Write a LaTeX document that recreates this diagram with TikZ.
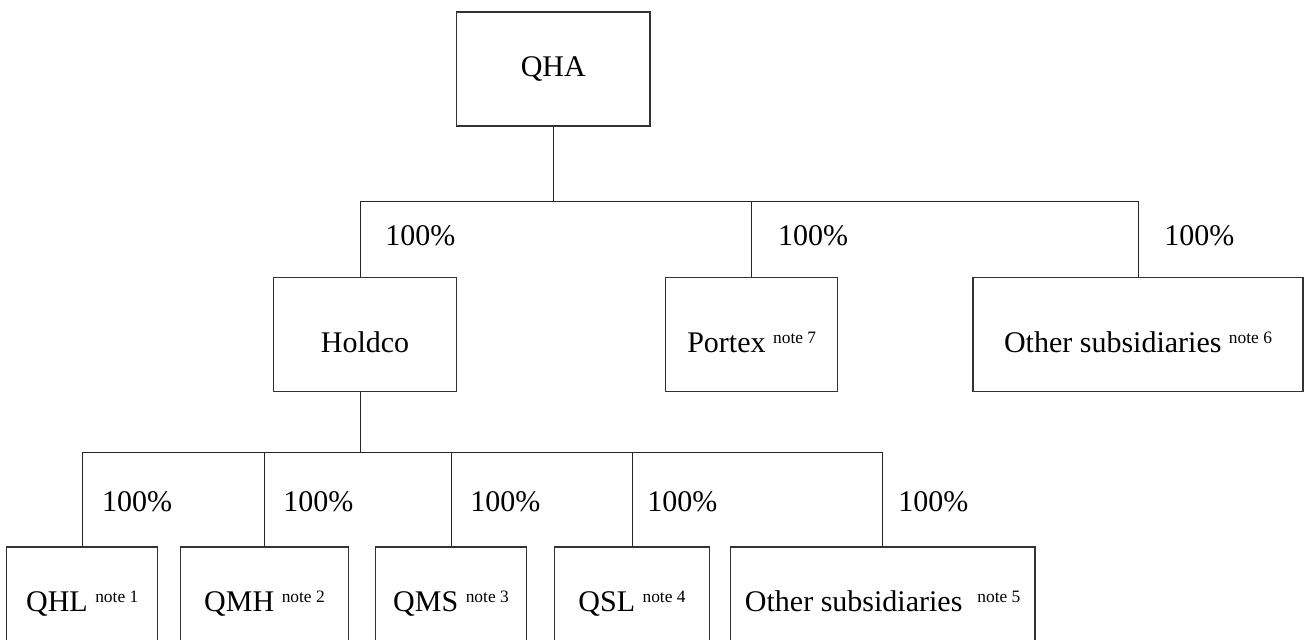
\documentclass[tikz,border=0pt]{standalone}
\usepackage{fontspec}
\setmainfont{Liberation Serif}
\newcommand{\subnote}[1]{\raisebox{4.8pt}{\fontsize{8.7}{10}\selectfont note #1}}

\begin{document}
\begin{tikzpicture}[
  x=0.5pt, y=-0.5pt,
  font=\fontsize{15}{18}\selectfont,
  entity/.style={draw=black!80, line width=0.55pt, minimum height=57pt,
                 inner sep=0pt, text height=10.2pt, text depth=2.4pt},
  midrow/.style={text height=18.2pt, text depth=0pt},
  pct/.style={anchor=base west, inner sep=0pt},
  link/.style={draw=black!85, line width=0.5pt},
]
\clip (0,0) rectangle (1306,639);

%====================== PARENT ======================
\node[entity, minimum width=96.7pt] (QHA) at (553.3,69) {QHA};
\coordinate (topbus) at (553.3,201.7);

%====================== SECOND ROW ======================
\node[entity, midrow, minimum width=91.7pt] (Holdco) at (365,334.7) {Holdco};
\node[entity, midrow, minimum width=86pt]   (Portex) at (751.7,334.7) {Portex \subnote{7}};
\node[entity, midrow, minimum width=165pt]  (OtherA) at (1138,334.7) {Other subsidiaries \subnote{6}};
\coordinate (holdtop) at ([xshift=-2.5pt]Holdco.north);
\coordinate (holdbot) at ([xshift=-2.5pt]Holdco.south);
\coordinate (lowbus) at (360,452);

%====================== THIRD ROW ======================
\node[entity, minimum width=75.5pt]  (QHL)    at (82.2,604)  {QHL \subnote{1}};
\node[entity, minimum width=83.8pt]  (QMH)    at (264.5,604) {QMH \subnote{2}};
\node[entity, minimum width=75.3pt]  (QMS)    at (451,604)   {QMS \subnote{3}};
\node[entity, minimum width=77.7pt]  (QSL)    at (632,604)   {QSL \subnote{4}};
\node[entity, minimum width=152.3pt] (OtherB) at (882.7,604) {Other subsidiaries~~\subnote{5}};

%====================== CONNECTORS ======================
\draw[link] (QHA) -- (topbus);
\draw[link] (holdtop) |- (topbus) -| (OtherA.north);
\draw[link] (Portex.north) -- (Portex.north |- topbus);
\draw[link] (holdbot) -- (lowbus);
\draw[link] (QHL.north) |- (lowbus) -| (OtherB.north);
\foreach \n in {QMH,QMS,QSL}
  \draw[link] (\n.north) -- (\n.north |- lowbus);

%====================== SHARES ======================
\node[pct] (pHoldco) at (385,245)    {100\%};
\node[pct] (pPortex) at (777.7,245)  {100\%};
\node[pct] (pOtherA) at (1164,245)   {100\%};
\node[pct] (pQHL)    at (101.7,511.7) {100\%};
\node[pct] (pQMH)    at (283,511.7)   {100\%};
\node[pct] (pQMS)    at (470,511.7)   {100\%};
\node[pct] (pQSL)    at (647,511.7)   {100\%};
\node[pct] (pOtherB) at (898,511.7)   {100\%};
\end{tikzpicture}
\end{document}
